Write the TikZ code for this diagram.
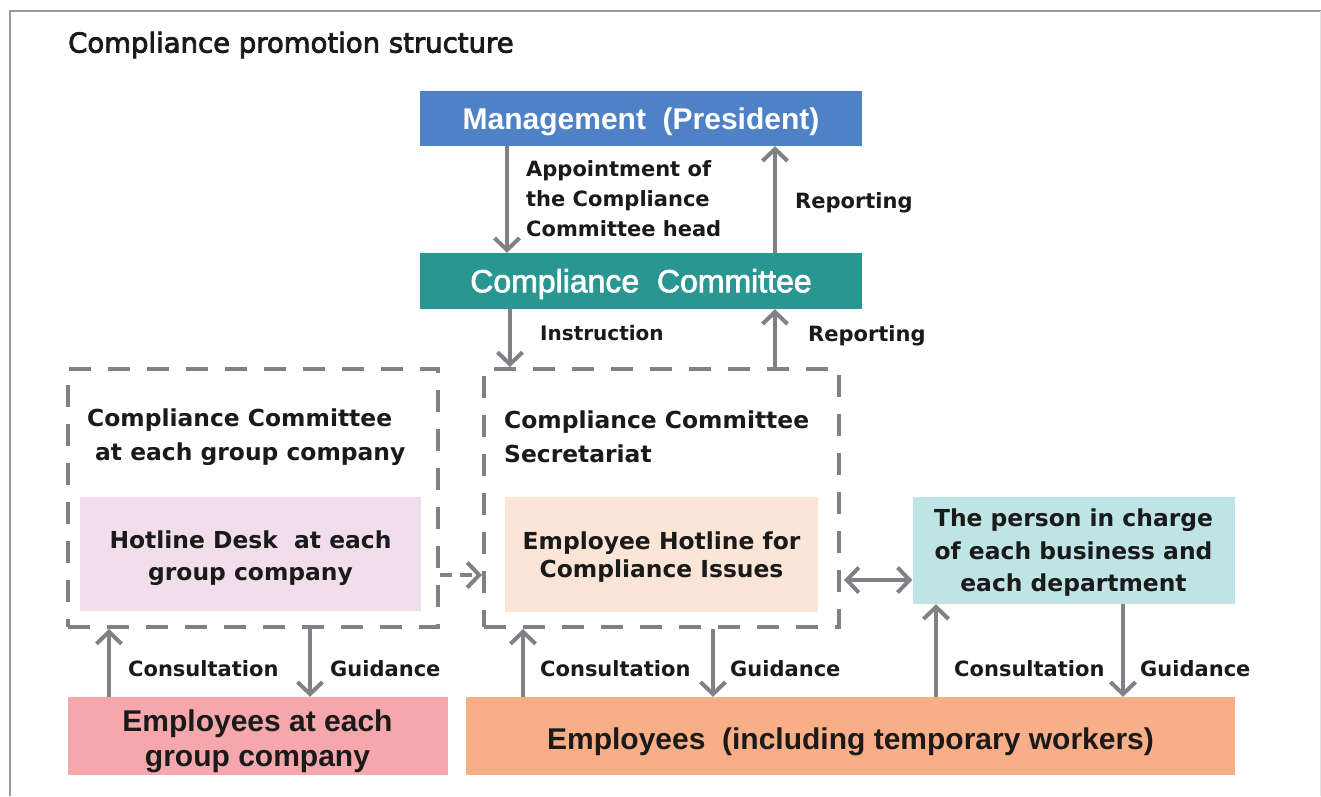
\documentclass[tikz,border=0pt]{standalone}
\usepackage{fontspec}
\setmainfont{Liberation Sans}
\newfontfamily\djv{DejaVu Sans}
\newcommand\fakebf[2]{\special{pdf:literal direct 2 Tr #1 w}#2\special{pdf:literal direct 0 Tr}}
\usetikzlibrary{arrows.meta}
\definecolor{mgblue}{HTML}{4F81C7}
\definecolor{ccteal}{HTML}{2A9691}
\definecolor{pinkin}{HTML}{F2DEEA}
\definecolor{peachin}{HTML}{FBE5D6}
\definecolor{cyanbox}{HTML}{BFE4E5}
\definecolor{emppink}{HTML}{F5A7AC}
\definecolor{emporange}{HTML}{F8AE86}
\definecolor{arrgray}{HTML}{808184}
\definecolor{framegray}{HTML}{9A9A9A}
\definecolor{txt}{HTML}{1A1A1A}
\tikzset{
  box/.style={inner sep=0pt, draw=none},
  tx/.style={inner sep=0pt, align=center, text=txt},
  dbox/.style={draw=arrgray, line width=4pt, dash pattern=on 22pt off 17pt, inner sep=0pt},
  arr/.style={draw=arrgray, line width=4pt, -{Straight Barb[length=12pt,width=25pt]}},
  darr/.style={draw=arrgray, line width=4pt, {Straight Barb[length=12pt,width=25pt]}-{Straight Barb[length=12pt,width=25pt]}},
  lbl/.style={anchor=west, inner sep=0pt, text=txt, font=\djv\bfseries\fontsize{21}{30}\selectfont},
  inner/.style={font=\djv\bfseries\fontsize{23.4}{32}\selectfont},
  big/.style={font=\bfseries\fontsize{30}{35}\selectfont},
}
\begin{document}
\begin{tikzpicture}[x=1pt,y=-1pt]
\useasboundingbox (0,0) rectangle (1321,796);
\fill[white] (0,0) rectangle (1321,796);
% frame
\draw[framegray, line width=2pt] (10,796) -- (10,11) -- (1321,11);
\draw[black!12, line width=1pt] (1320,11) -- (1320,796);

% main boxes
\node[box, fill=mgblue, minimum width=442pt, minimum height=55pt] (mgmt) at (641,118.5) {};
\node[tx, text=white, big] (mgmtT) at ([yshift=-3pt]mgmt.center) {Management\ \ (President)};
\node[box, fill=ccteal, minimum width=442pt, minimum height=56pt] (cc) at (641,281) {};

% dashed group boxes
\node[dbox, minimum width=370pt, minimum height=258pt] (dashL) at (253,498) {};
\node[dbox, minimum width=355pt, minimum height=258pt] (dashM) at (661.5,498) {};
\node[anchor=west, inner sep=0pt, align=left, text=txt, font=\djv\bfseries\fontsize{23.4}{34}\selectfont] (hL) at (87,437) {Compliance Committee\\\hspace*{8pt}at each group company};
\node[anchor=west, inner sep=0pt, align=left, text=txt, font=\djv\bfseries\fontsize{23.4}{34}\selectfont] (hM) at (504,437) {Compliance Committee\\Secretariat};

% inner boxes
\node[box, fill=pinkin, minimum width=341pt, minimum height=114pt] (hotL) at (250.5,554) {};
\node[tx, inner] (hotLT) at ([yshift=-4pt]hotL.center) {Hotline Desk\ \ at each\\group company};
\node[box, fill=peachin, minimum width=313pt, minimum height=115pt] (hotM) at (661.5,554.5) {};
\node[tx, font=\djv\bfseries\fontsize{23.4}{28}\selectfont] (hotMT) at ([yshift=-3pt]hotM.center) {Employee Hotline for\\Compliance Issues};
\node[box, fill=cyanbox, minimum width=322pt, minimum height=107pt] (pic) at (1073.5,550.5) {};
\node[tx, font=\djv\bfseries\fontsize{23.4}{32.5}\selectfont] (picT) at ([yshift=-2.5pt]pic.center) {The person in charge\\of each business and\\each department};

% employees
\node[box, fill=emppink, minimum width=380pt, minimum height=78pt] (empL) at (257.5,736) {};
\node[tx, big] (empLT) at ([yshift=-5pt]empL.center) {Employees at each\\group company};
\node[box, fill=emporange, minimum width=769pt, minimum height=78pt] (empR) at (850.5,736) {};
\node[tx, big] (empRT) at ([yshift=-6pt]empR.center) {Employees\ \ (including temporary workers)};

% x positions for arrows
\coordinate (x1) at (507,0);
\coordinate (x2) at (775,0);
\coordinate (x3) at (510,0);
\coordinate (x4) at (109,0);
\coordinate (x5) at (310,0);
\coordinate (x6) at (523,0);
\coordinate (x7) at (713,0);
\coordinate (x8) at (936,0);
\coordinate (x9) at (1123,0);
\coordinate (y1) at (0,575);
\coordinate (y2) at (0,580);

\draw[arr] (mgmt.south -| x1) -- (cc.north -| x1);
\draw[arr] (cc.north -| x2) -- (mgmt.south -| x2);
\draw[arr] (cc.south -| x3) -- (dashM.north -| x3);
\draw[arr] (dashM.north -| x2) -- (cc.south -| x2);
\draw[arr] (empL.north -| x4) -- (dashL.south -| x4);
\draw[arr] (dashL.south -| x5) -- (empL.north -| x5);
\draw[arr] (empR.north -| x6) -- (dashM.south -| x6);
\draw[arr] (dashM.south -| x7) -- (empR.north -| x7);
\draw[arr] (empR.north -| x8) -- (pic.south -| x8);
\draw[arr] (pic.south -| x9) -- (empR.north -| x9);
\draw[arr, dash pattern=on 12pt off 8pt] (dashL.east |- y1) -- (dashM.west |- y1);
\draw[darr] ([xshift=3pt]dashM.east |- y2) -- (pic.west |- y2);

% labels
\node[lbl, align=left] (lapp) at (526,199) {Appointment of\\the Compliance\\Committee head};
\node[lbl] (lrep1) at (795,203) {Reporting};
\node[lbl, font=\djv\bfseries\fontsize{20}{30}\selectfont] (lins) at (540,333) {Instruction};
\node[lbl] (lrep2) at (808,336) {Reporting};
\node[lbl] (lc1) at (128,669) {Consultation};
\node[lbl] (lg1) at (330,669) {Guidance};
\node[lbl] (lc2) at (540,669) {Consultation};
\node[lbl] (lg2) at (730,669) {Guidance};
\node[lbl] (lc3) at (954,669) {Consultation};
\node[lbl] (lg3) at (1140,669) {Guidance};

% texts with a heavier stroke (drawn last)
\node[tx, text=white, font=\fontsize{32}{36}\selectfont] (ccT) at ([yshift=-3pt]cc.center) {\fakebf{0.7}{Compliance\ \ Committee}};
\node[anchor=west, inner sep=0pt, text=txt, font=\djv\fontsize{27.5}{33}\selectfont] (title) at (68,45) {\fakebf{0.8}{Compliance promotion structure}};
\end{tikzpicture}
\end{document}
